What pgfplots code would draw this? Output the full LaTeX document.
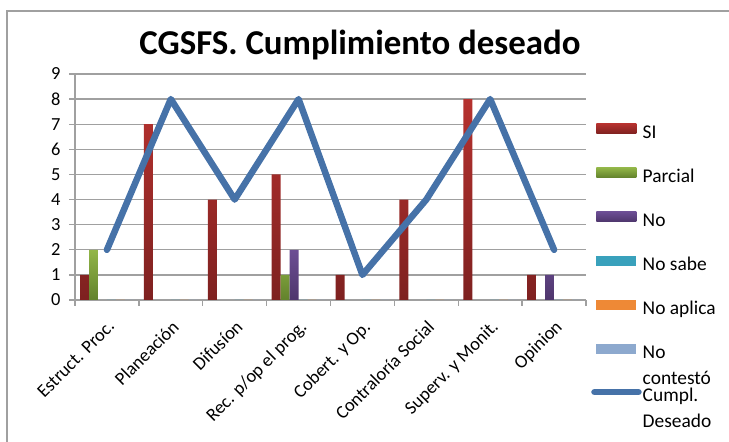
\documentclass[border=0pt]{standalone}
\usepackage{pgfplots}
\pgfplotsset{compat=1.18}
\usepackage{fontspec}
\setmainfont{Carlito}

% series colours (top / bottom of the gradient)
\definecolor{siT}{RGB}{182,50,47}\definecolor{siB}{RGB}{126,33,32}
\definecolor{paT}{RGB}{146,182,72}\definecolor{paB}{RGB}{98,130,44}
\definecolor{noT}{RGB}{108,78,148}\definecolor{noB}{RGB}{78,54,108}
\definecolor{nsT}{RGB}{62,170,198}\definecolor{nsB}{RGB}{36,124,150}
\definecolor{naT}{RGB}{246,146,60}\definecolor{naB}{RGB}{206,100,28}
\definecolor{ncT}{RGB}{150,178,214}\definecolor{ncB}{RGB}{104,132,176}
\definecolor{cumpl}{RGB}{70,114,168}
\definecolor{gridc}{RGB}{160,160,160}

\pgfplotsset{
  barimg/.style={legend image code/.code={%
    \path[##1,draw=none] (0bp,1bp) rectangle (40bp,11bp);}},
  lineimg/.style={legend image code/.code={%
    \draw[##1,line cap=round] (-2bp,6bp) -- (42bp,6bp);}},
}

\begin{document}
\begin{tikzpicture}[x=1bp,y=1bp]
\useasboundingbox (0,0) rectangle (729,442);
\draw[gridc,line width=1.3bp] (7,0) -- (7,431) -- (729,431);
\node[anchor=base,font=\fontsize{35}{40}\selectfont\bfseries] at (360,387) {CGSFS. Cumplimiento deseado};

\begin{axis}[
  at={(75bp,142bp)}, anchor=south west,
  scale only axis, width=511bp, height=226bp,
  xmin=0.5, xmax=8.5, ymin=0, ymax=9,
  xtick={1,...,8},
  xticklabels={Estruct. Proc., Planeación, Difusíon, Rec. p/op el prog., Cobert. y Op., Contraloría Social, Superv. y Monit., Opinion},
  minor xtick={0.5,1.5,...,8.5},
  major x tick style={draw=none},
  ytick={0,...,9},
  tick align=outside,
  major tick length=6bp, minor tick length=6bp,
  tick style={gridc,line width=1.3bp},
  ymajorgrids, grid style={gridc,line width=1.3bp},
  axis x line*=bottom, axis y line*=left,
  axis line style={gridc,line width=1.3bp,-},
  /pgf/number format/assume math mode=true,
  ticklabel style={font=\fontsize{18.5}{22}\selectfont},
  xticklabel style={rotate=45,anchor=north east,inner sep=0pt},
  xticklabel shift=13bp,
  yticklabel style={xshift=-5bp},
  legend style={at={(1.004,0.79)},anchor=north west,draw=none,fill=none,
    font=\fontsize{19.5}{22}\selectfont,row sep=22.5bp,
    nodes={text height=13bp,text depth=6bp,inner sep=1bp}},
  legend cell align=left,
  clip=false,
]
\addplot[ybar,barimg,bar width=0.14,bar shift=-0.35,draw=none,top color=siT,bottom color=siB]
  coordinates {(1,1) (2,7) (3,4) (4,5) (5,1) (6,4) (7,8) (8,1)};
\addlegendentry{SI}
\addplot[ybar,barimg,bar width=0.14,bar shift=-0.21,draw=none,top color=paT,bottom color=paB]
  coordinates {(1,2) (4,1)};
\addlegendentry{Parcial}
\addplot[ybar,barimg,bar width=0.14,bar shift=-0.07,draw=none,top color=noT,bottom color=noB]
  coordinates {(4,2) (8,1)};
\addlegendentry{No}
\addplot[ybar,barimg,bar width=0.14,bar shift=0.07,draw=none,fill=nsT!80!nsB]
  coordinates {(1,0) (2,0) (3,0) (4,0) (5,0) (6,0) (7,0) (8,0)};
\addlegendentry{No sabe}
\addplot[ybar,barimg,bar width=0.14,bar shift=0.21,draw=none,fill=naT!80!naB]
  coordinates {(1,0) (2,0) (3,0) (4,0) (5,0) (6,0) (7,0) (8,0)};
\addlegendentry{No aplica}
\addplot[ybar,barimg,bar width=0.14,bar shift=0.35,draw=none,fill=ncT!80!ncB]
  coordinates {(1,0) (2,0) (3,0) (4,0) (5,0) (6,0) (7,0) (8,0)};
\addlegendentry{\makebox[0pt][l]{\raisebox{-26bp}[0pt][0pt]{contestó}}No}
\addplot[sharp plot,lineimg,cumpl,line width=6.5bp,line join=round,line cap=round,mark=none]
  coordinates {(1,2) (2,8) (3,4) (4,8) (5,1) (6,4) (7,8) (8,2)};
\addlegendentry{\makebox[0pt][l]{\raisebox{-26bp}[0pt][0pt]{Deseado}}Cumpl.}
\end{axis}
\end{tikzpicture}
\end{document}
